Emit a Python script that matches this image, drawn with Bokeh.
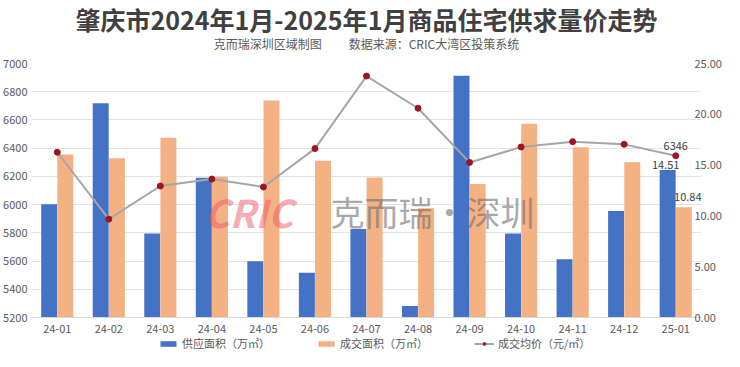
from bokeh.plotting import figure
from bokeh.layouts import column
from bokeh.models import (Range1d, LinearAxis, FixedTicker, PrintfTickFormatter, Legend,
                          LegendItem, Title, Label, FactorRange, ColumnDataSource)
from bokeh.transform import dodge
from bokeh.core.properties import value
from bokeh.embed import file_html
from bokeh.resources import INLINE

months = ["24-01", "24-02", "24-03", "24-04", "24-05", "24-06", "24-07",
          "24-08", "24-09", "24-10", "24-11", "24-12", "25-01"]
supply = [11.15, 21.09, 8.28, 13.75, 5.54, 4.40, 8.70, 1.14, 23.80, 8.28, 5.73, 10.47, 14.51]
deal = [16.04, 15.68, 17.70, 13.85, 21.35, 15.42, 13.79, 10.76, 13.14, 19.07, 16.75, 15.29, 10.84]
price = [6371, 5897, 6132, 6181, 6125, 6397, 6911, 6683, 6299, 6408, 6446, 6427, 6346]
left_ticks = [5200, 5400, 5600, 5800, 6000, 6200, 6400, 6600, 6800, 7000]
right_ticks = [0, 5, 10, 15, 20, 25]

title_text = "肇庆市2024年1月-2025年1月商品住宅供求量价走势"
subtitle_text = "克而瑞深圳区域制图" + "\u00a0" * 10 + "数据来源：CRIC大湾区投策系统"
legend_names = ["供应面积（万㎡）", "成交面积（万㎡）", "成交均价（元/㎡）"]

FONT = "Noto Sans CJK SC"
BLUE = "#4472C4"
ORANGE = "#F4B183"
GRAY_LINE = "#A6A6A6"
DOT = "#9E1420"
TXT = "#595959"

src = ColumnDataSource(dict(m=months, supply=supply, deal=deal, price=price))

p = figure(width=724, height=335, x_range=FactorRange(*months),
           y_range=Range1d(left_ticks[0], left_ticks[-1]),
           output_backend="svg", toolbar_location=None,
           min_border_left=30, min_border_right=0, min_border_top=0, min_border_bottom=0)
p.extra_y_ranges = {"area": Range1d(right_ticks[0], right_ticks[-1])}
p.outline_line_color = None
p.background_fill_color = "white"
p.border_fill_color = "white"

# axes
p.yaxis.ticker = FixedTicker(ticks=left_ticks)
for ax in p.yaxis:
    ax.axis_line_color = None
    ax.major_tick_line_color = None
    ax.major_tick_out = 0
    ax.minor_tick_line_color = None
    ax.minor_tick_out = 0
    ax.major_label_text_font = FONT
    ax.major_label_text_font_size = "11px"
    ax.major_label_text_color = TXT
    ax.major_label_standoff = 4

ra = LinearAxis(y_range_name="area", ticker=FixedTicker(ticks=right_ticks),
                formatter=PrintfTickFormatter(format="%.2f"))
ra.axis_line_color = None
ra.major_tick_line_color = None
ra.major_tick_out = 0
ra.minor_tick_line_color = None
ra.minor_tick_out = 0
ra.axis_label_standoff = 0
ra.major_label_text_font = FONT
ra.major_label_text_font_size = "11px"
ra.major_label_text_color = TXT
ra.major_label_standoff = -7
p.add_layout(ra, "right")

xa = p.xaxis[0]
xa.axis_line_color = "#D9D9D9"
xa.major_tick_line_color = None
xa.major_tick_out = 0
xa.axis_label_standoff = 0
xa.major_label_text_font = FONT
xa.major_label_text_font_size = "11px"
xa.major_label_text_color = TXT
xa.major_label_standoff = 7

p.xgrid.grid_line_color = None
p.ygrid.ticker = FixedTicker(ticks=left_ticks)
p.ygrid.grid_line_color = "#E4E4E4"

# bars
b1 = p.vbar(x=dodge("m", -0.157, range=p.x_range), top="supply", bottom=0, width=0.31,
            source=src, y_range_name="area", fill_color=BLUE, line_color=None)
b2 = p.vbar(x=dodge("m", 0.157, range=p.x_range), top="deal", bottom=0, width=0.31,
            source=src, y_range_name="area", fill_color=ORANGE, line_color=None)

# watermark
p.add_layout(Label(x=173, y=106, x_units="screen", y_units="screen", text="CRIC",
                   text_font=FONT, text_font_size="38px", text_font_style="bold italic",
                   text_color="#EE5A66", text_alpha=0.5, text_baseline="middle"))
p.add_layout(Label(x=299, y=106, x_units="screen", y_units="screen", text="克而瑞·深圳",
                   text_font=FONT, text_font_size="34px",
                   text_color="#6F6F6F", text_alpha=0.6, text_baseline="middle"))

# line
ln = p.line(x="m", y="price", source=src, line_color=GRAY_LINE, line_width=2)
dots = p.scatter(x="m", y="price", source=src, size=6, fill_color=DOT, line_color=DOT)

# value labels for last month
last = months[-1]
p.text(x=[last], y=[price[-1]], text=[str(price[-1])], text_font=value(FONT),
       text_font_size="11px", text_color="#404040", text_align="center",
       text_baseline="bottom", y_offset=-6)
p.text(x=dodge("x", -0.157, range=p.x_range), y="y",
       source=ColumnDataSource(dict(x=[last], y=[supply[-1]], t=[f"{supply[-1]:.2f}"])),
       text="t", y_range_name="area", text_font=value(FONT),
       text_font_size="11px", text_color="#404040", text_align="center",
       text_baseline="bottom", x_offset=-2, y_offset=-1)
p.text(x=dodge("x", 0.157, range=p.x_range), y="y",
       source=ColumnDataSource(dict(x=[last], y=[deal[-1]], t=[f"{deal[-1]:.2f}"])),
       text="t", y_range_name="area", text_font=value(FONT),
       text_font_size="11px", text_color="#404040", text_align="center",
       text_baseline="bottom", x_offset=4, y_offset=-6)

# titles (a tiny invisible spacer title sits between subtitle and plot)
p.add_layout(Title(text="\u00a0", align="center", vertical_align="top",
                   text_font=FONT, text_font_size="1px", text_color="white",
                   standoff=11), "above")
p.add_layout(Title(text=subtitle_text, align="center", vertical_align="top",
                   text_font=FONT, text_font_size="12px",
                   text_font_style="normal", text_color=TXT, standoff=-8), "above")
p.add_layout(Title(text=title_text, align="center", vertical_align="top",
                   text_font=FONT, text_font_size="25px",
                   text_font_style="bold", text_color="#404040", standoff=0), "above")

# legend strip (separate small figure below the chart)
lf = figure(width=724, height=16, x_range=Range1d(0, 1), y_range=Range1d(0, 1),
            output_backend="svg", toolbar_location=None,
            min_border_left=0, min_border_right=0, min_border_top=0, min_border_bottom=0)
lf.axis.visible = False
lf.grid.grid_line_color = None
lf.outline_line_color = None
e = ColumnDataSource(dict(x=[-10], y=[-10], top=[-10]))
lb1 = lf.vbar(x="x", top="top", width=0.1, source=e, fill_color=BLUE, line_color=None)
lb2 = lf.vbar(x="x", top="top", width=0.1, source=e, fill_color=ORANGE, line_color=None)
lln = lf.line(x="x", y="y", source=e, line_color=GRAY_LINE, line_width=2)
ldt = lf.scatter(x="x", y="y", source=e, size=6, fill_color=DOT, line_color=DOT)
legend = Legend(items=[LegendItem(label=legend_names[0], renderers=[lb1]),
                       LegendItem(label=legend_names[1], renderers=[lb2]),
                       LegendItem(label=legend_names[2], renderers=[lln, ldt])],
                orientation="horizontal", location=(127, 0),
                label_text_font=FONT, label_text_font_size="11px", label_text_color=TXT,
                label_height=12, glyph_width=20, glyph_height=7, label_standoff=4, spacing=46,
                padding=0, margin=0, border_line_color=None, background_fill_alpha=0)
lf.add_layout(legend)

layout = column(p, lf, spacing=0)
open("out.html", "w").write(file_html(layout, INLINE))
